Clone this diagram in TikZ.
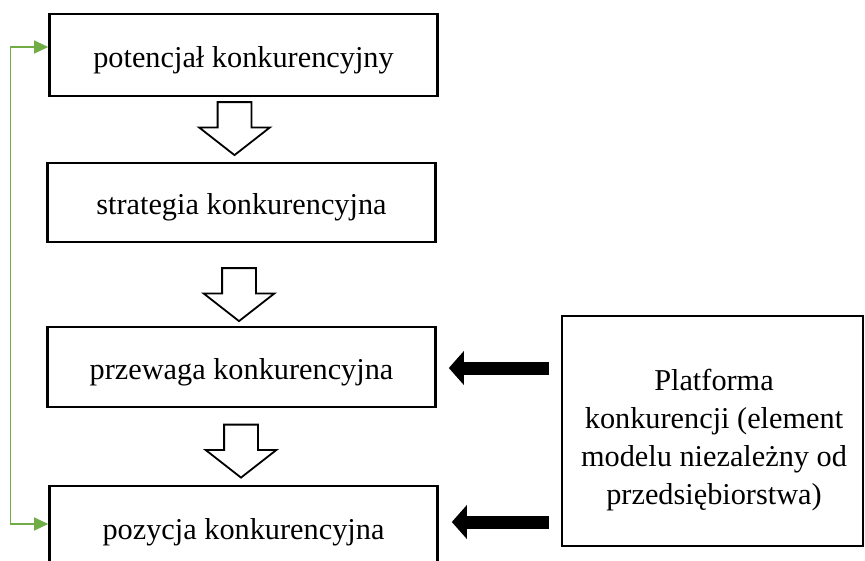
\documentclass[tikz,border=0pt]{standalone}
\usepackage{fontspec}
\setmainfont{Liberation Serif}
\usepackage{tikz}
\usetikzlibrary{arrows.meta}
\usetikzlibrary{shapes.arrows}
\usetikzlibrary{calc}
\definecolor{zielony}{RGB}{112,173,71}
\newcommand{\tekst}{\fontsize{30.3}{38}\selectfont}

\begin{document}
\begin{tikzpicture}[line join=miter,x=1pt,y=-1pt,
  blok/.style={draw,line width=2.6pt,minimum width=388pt,inner sep=2pt,font=\tekst,text height=26pt,text depth=2pt},
  pusta/.style={draw,line width=1.8pt,single arrow,rotate=-90,inner xsep=0pt,inner ysep=16pt,minimum height=53pt,minimum width=69pt,single arrow head extend=18.5pt,single arrow tip angle=104},
  czarna/.style={line width=13pt,-{Triangle[length=15pt,width=33pt]}},
  zwrot/.style={draw=zielony,line width=1.2pt,{Triangle[length=14pt,width=13pt]}-{Triangle[length=14pt,width=13pt]}}]
\useasboundingbox (0,0) rectangle (865,560);
% lewa kolumna
\node[blok,minimum height=82pt] (pot) at (243.5,55) {potencjał konkurencyjny};
\node[blok,minimum height=79pt] (strat) at (241.5,202.5) {strategia konkurencyjna};
\node[blok,minimum height=80pt] (przew) at (241.5,367) {przewaga konkurencyjna};
\node[blok,minimum height=82pt] (poz) at (243.5,527) {pozycja konkurencyjna};
\node[pusta] (s1) at (234.5,122) {};
\node[pusta] (s2) at (239,288) {};
\node[pusta] (s3) at (241,444.5) {};
% platforma
\node[draw,line width=2.6pt,minimum width=301pt,minimum height=230pt] (platf) at (712.5,431) {};
\node[font=\tekst,align=center,inner sep=0pt] (platfopis) at (714,440) {Platforma\\konkurencji (element\\modelu niezależny od\\przedsiębiorstwa)};
\draw[czarna] ($(przew.east -| platf.west)+(-12,1)$) -- ($(przew.east)+(12,1)$);
\draw[czarna] ($(poz.east -| platf.west)+(-12,-5)$) -- ($(poz.east)+(13,-5)$);
% sprzezenie zwrotne
\draw[zwrot] ($(pot.west)+(0,-8)$) -- ++(-38,0) |- ($(poz.west)+(0,-3)$);
\end{tikzpicture}
\end{document}
